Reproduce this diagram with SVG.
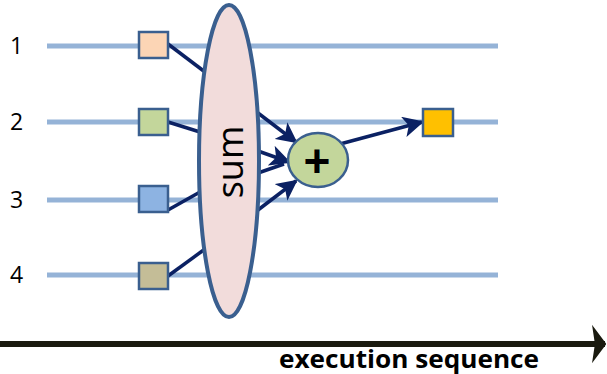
<svg xmlns="http://www.w3.org/2000/svg" width="607" height="374" viewBox="0 0 607 374">
<defs>
<style>
.lane{stroke:#95b3d7;stroke-width:5;fill:none}
.sq{stroke:#3a5f8f;stroke-width:2.5}
.edge{stroke:#0b2163;stroke-width:3.5;fill:none}
.num{font-family:"Open Sans","Liberation Sans",sans-serif;font-size:23px;fill:#000}
</style>
<marker id="ah" viewBox="0 0 10 10" refX="9" refY="5" markerWidth="6" markerHeight="6" markerUnits="strokeWidth" orient="auto">
<path d="M0,0 L10,5 L0,10 L2.5,5 Z" fill="#0b2163"/>
</marker>
<marker id="axis" viewBox="0 0 10 10" refX="9" refY="5" markerWidth="2.4" markerHeight="6.4" markerUnits="strokeWidth" orient="auto" preserveAspectRatio="none">
<path d="M0,0 L10,5 L0,10 L2,5 Z" fill="#1a1a0f"/>
</marker>
</defs>
<g id="lanes">
<line class="lane" x1="47" y1="46" x2="498" y2="46"/>
<line class="lane" x1="47" y1="122" x2="498" y2="122"/>
<line class="lane" x1="47" y1="200" x2="498" y2="200"/>
<line class="lane" x1="47" y1="275" x2="498" y2="275"/>
</g>
<g id="labels">
<text class="num" x="10" y="54">1</text>
<text class="num" x="10" y="130">2</text>
<text class="num" x="10" y="208">3</text>
<text class="num" x="10" y="283">4</text>
</g>
<g id="connectors">
<line class="edge" x1="168" y1="44" x2="205" y2="72"/>
<line class="edge" x1="168" y1="122" x2="200" y2="132"/>
<line class="edge" x1="168" y1="210" x2="200" y2="192"/>
<line class="edge" x1="168" y1="276" x2="205" y2="249"/>
<line class="edge" x1="258" y1="113" x2="296" y2="142" marker-end="url(#ah)"/>
<line class="edge" x1="258" y1="151" x2="289" y2="162" marker-end="url(#ah)"/>
<line class="edge" x1="258" y1="173" x2="284" y2="164"/>
<line class="edge" x1="258" y1="210" x2="296" y2="181" marker-end="url(#ah)"/>
<line class="edge" x1="340" y1="144" x2="422" y2="122" marker-end="url(#ah)"/>
</g>
<g id="in1"><rect class="sq" x="139" y="32" width="29" height="26" fill="#fcd5b5"/></g>
<g id="in2"><rect class="sq" x="139" y="109" width="29" height="26" fill="#c3d69b"/></g>
<g id="in3"><rect class="sq" x="139" y="186" width="29" height="26" fill="#8db3e2"/></g>
<g id="in4"><rect class="sq" x="139" y="263" width="29" height="26" fill="#c4bd97"/></g>
<g id="sum">
<ellipse cx="229" cy="161" rx="30" ry="156" fill="#f2dcdb" stroke="#3a5f8f" stroke-width="4"/>
<text x="229" y="162" transform="rotate(-90 229 162)" text-anchor="middle" dominant-baseline="central" font-family="Open Sans,Liberation Sans,sans-serif" font-size="36" fill="#000">sum</text>
</g>
<g id="plus">
<ellipse cx="318" cy="160" rx="30" ry="27" fill="#c3d69b" stroke="#3a5f8f" stroke-width="2.5"/>
<text x="317" y="161" text-anchor="middle" dominant-baseline="central" font-family="Liberation Sans,sans-serif" font-weight="bold" font-size="46" fill="#000">+</text>
</g>
<g id="out"><rect class="sq" x="423" y="109" width="30" height="27" fill="#ffc000"/></g>
<g id="axis-g">
<line x1="0" y1="344" x2="605" y2="344" stroke="#1a1a0f" stroke-width="6" marker-end="url(#axis)"/>
<text x="409" y="368" text-anchor="middle" font-family="Open Sans,Liberation Sans,sans-serif" font-weight="bold" font-size="25" fill="#000" textLength="260" lengthAdjust="spacingAndGlyphs">execution sequence</text>
</g>
</svg>
